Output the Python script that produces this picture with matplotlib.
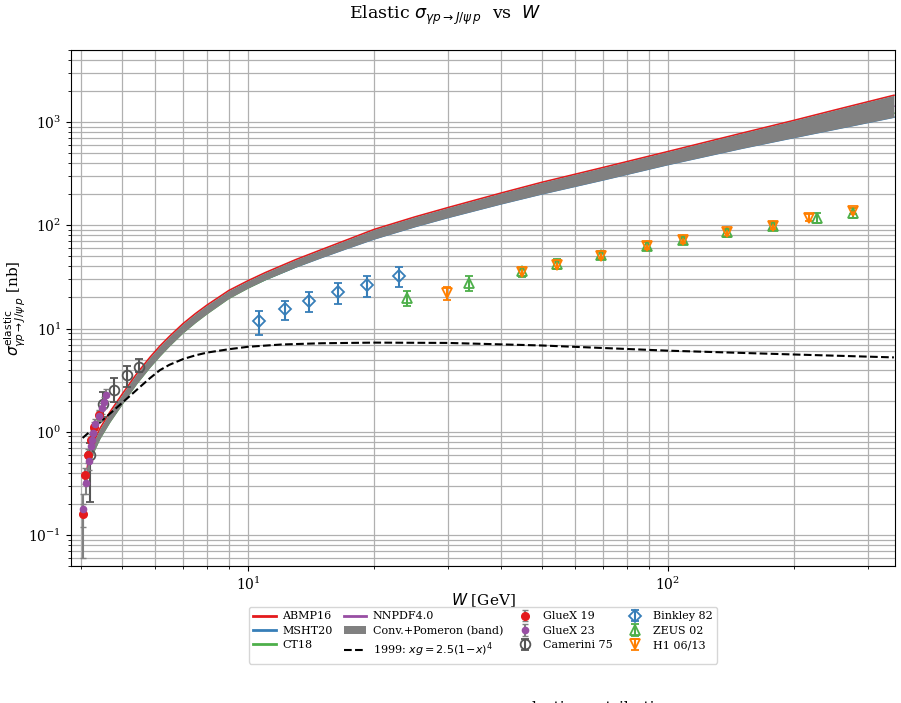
import numpy as np
import matplotlib
matplotlib.use("Agg")
import matplotlib.pyplot as plt

plt.rcParams['font.family'] = ['DejaVu Serif']
plt.rcParams['mathtext.fontset'] = 'dejavusans'

# ---------------- theory curves ----------------
W_th = [4.14, 4.17, 4.28, 4.44, 4.69, 5.05, 5.43, 5.84, 6.17, 6.5, 7.0, 7.5, 8.0, 9.0, 10,
        11, 13, 15, 17, 20, 25, 30, 40, 50, 70, 100, 150, 200, 250, 345]
abmp16 = [0.4365, 0.537, 0.776, 1.0715, 1.549, 2.399, 3.631, 5.248, 6.761, 8.375, 11.12,
          13.96, 16.94, 23.33, 29.04, 34.83, 46.56, 58.34, 70.96, 91.41, 120.8, 148.9,
          205.1, 260.6, 363.1, 518.8, 781.6, 1042, 1312, 1820]
msht20 = [0.3631, 0.4467, 0.6457, 0.8913, 1.288, 1.995, 3.020, 4.365, 5.623, 7.031, 9.419,
          11.89, 14.49, 20.04, 24.95, 29.79, 39.45, 48.98, 58.75, 73.96, 97.27, 119.4,
          161.4, 201.4, 275.4, 388.2, 558.5, 711.2, 855.1, 1117]
ct18 = [0.350, 0.431, 0.623, 0.860, 1.243, 1.925, 2.914, 4.212, 5.426, 6.785, 9.09,
        11.47, 14.0, 19.6, 24.7, 29.8, 39.8, 49.8, 60.2, 76.3, 101, 124.5,
        169, 212, 292, 414, 600, 770, 930, 1220]
nnpdf40 = [0.398, 0.490, 0.708, 0.977, 1.413, 2.188, 3.311, 4.786, 6.166, 7.674, 10.23,
           12.88, 15.67, 21.63, 26.92, 32.21, 42.85, 53.46, 64.57, 82.22, 108.4, 133.4,
           182.0, 229.1, 316.2, 448.7, 660.7, 861.0, 1059, 1426]

W_1999 = [4.04, 4.28, 4.52, 5.05, 5.5, 5.84, 6.17, 6.5, 7, 7.5, 8, 9, 10, 12, 15, 20, 30,
          50, 100, 200, 345]
xs_1999 = [0.87, 1.07, 1.31, 1.95, 2.66, 3.3, 3.95, 4.45, 5.05, 5.5, 5.85, 6.3, 6.65, 7.0,
           7.2, 7.3, 7.25, 6.85, 6.1, 5.6, 5.25]

# ---------------- data ----------------
W_gx19 = [4.04, 4.09, 4.16, 4.24, 4.30, 4.42]
xs_gx19 = [0.16, 0.38, 0.59, 0.84, 1.10, 1.46]
err_gx19 = [0.04, 0.07, 0.09, 0.11, 0.13, 0.16]

W_gx23 = [4.055, 4.115, 4.18, 4.22, 4.25, 4.28, 4.33, 4.42, 4.49, 4.53, 4.59]
xs_gx23 = [0.178, 0.32, 0.52, 0.72, 0.84, 0.97, 1.19, 1.43, 1.69, 1.92, 2.28]
errlo_gx23 = [0.118, 0.07, 0.09, 0.10, 0.11, 0.12, 0.14, 0.17, 0.20, 0.24, 0.28]
errhi_gx23 = [0.07, 0.07, 0.09, 0.10, 0.11, 0.12, 0.14, 0.17, 0.20, 0.26, 0.30]

W_cam = [4.21, 4.52, 4.80, 5.16, 5.50]
xs_cam = [0.60, 1.86, 2.55, 3.55, 4.27]
errlo_cam = [0.39, 0.46, 0.60, 0.85, 0.47]
errhi_cam = [0.18, 0.54, 0.75, 0.80, 0.83]

W_bink = [10.6, 12.25, 14.0, 16.4, 19.2, 22.9]
xs_bink = [11.7, 15.3, 18.4, 22.4, 26.4, 32.5]
err_bink = [3.0, 3.2, 4.0, 5.0, 6.0, 7.0]

W_zeus = [23.9, 33.6, 44.9, 54.5, 69.2, 88.9, 108.6, 138.3, 177.4, 225.8, 275.4]
xs_zeus = [19.8, 27.6, 35.8, 42.5, 51.9, 63.4, 72.4, 85.2, 98.8, 117.4, 133.1]
err_zeus = [3.2, 4.5, 4.0, 4.5, 5.0, 6.0, 6.5, 7.5, 9.0, 13.0, 15.0]

W_h1 = [29.7, 44.9, 54.5, 69.2, 88.9, 108.6, 138.3, 177.4, 216.7, 275.4]
xs_h1 = [22.1, 35.0, 41.5, 50.7, 63.4, 72.4, 85.2, 98.8, 118.9, 138.0]
err_h1 = [3.0, 3.0, 3.5, 4.0, 5.0, 5.5, 6.5, 7.5, 9.0, 10.0]

# ---------------- figure ----------------
fig = plt.figure(figsize=(9.01, 7.03), dpi=100)
ax = fig.add_axes([0.0788, 0.1949, 0.9145, 0.734])

ax.plot(W_th, abmp16, color='#e41a1c', lw=1.2, label='ABMP16', zorder=2)
ax.plot(W_th, msht20, color='#377eb8', lw=1.2, label='MSHT20', zorder=2)
ax.plot(W_th, ct18, color='#4daf4a', lw=1.2, label='CT18', zorder=2)
ax.plot(W_th, nnpdf40, color='#984ea3', lw=1.2, label='NNPDF4.0', zorder=2)
curves = np.array([abmp16, msht20, ct18, nnpdf40])
ax.fill_between(W_th, curves.min(axis=0), curves.max(axis=0), color='gray', lw=0,
                label='Conv.+Pomeron (band)', zorder=3)
ax.plot(W_1999, xs_1999, 'k--', lw=1.5, label=r'1999: $xg=2.5(1\!-\!x)^4$', zorder=4)

ax.errorbar(W_gx19, xs_gx19, yerr=err_gx19, fmt='o', color='#e41a1c', ecolor='gray',
            ms=5.5, elinewidth=1.5, capsize=2.5, label='GlueX 19', zorder=6)
ax.errorbar(W_gx23, xs_gx23, yerr=[errlo_gx23, errhi_gx23], fmt='o', color='#984ea3',
            ecolor='gray', ms=4.5, elinewidth=1.5, capsize=2.5, label='GlueX 23', zorder=6)
ax.errorbar(W_cam, xs_cam, yerr=[errlo_cam, errhi_cam], fmt='o', mfc='none', color='#555555',
            ms=7, mew=1.3, elinewidth=1.5, capsize=3, label='Camerini 75', zorder=5)
ax.errorbar(W_bink, xs_bink, yerr=err_bink, fmt='D', mfc='none', color='#377eb8',
            ms=6, mew=1.3, elinewidth=1.5, capsize=3, label='Binkley 82', zorder=5)
ax.errorbar(W_zeus, xs_zeus, yerr=err_zeus, fmt='^', mfc='none', color='#4daf4a',
            ms=6.5, mew=1.3, elinewidth=1.5, capsize=3, label='ZEUS 02', zorder=5)
ax.errorbar(W_h1, xs_h1, yerr=err_h1, fmt='v', mfc='none', color='#ff7f00',
            ms=6.5, mew=1.3, elinewidth=1.5, capsize=3, label='H1 06/13', zorder=5)

ax.set_xscale('log')
ax.set_yscale('log')
ax.set_xlim(3.79, 347)
ax.set_ylim(0.05, 5000)
ax.grid(True, which='both', color='#b0b0b0', lw=0.9)
ax.set_axisbelow(True)
ax.tick_params(labelsize=10)

ax.set_xlabel(r'$W$ [GeV]', fontsize=11)
ax.xaxis.set_label_coords(0.5, -0.048)
ax.xaxis.label.set_va('top')
ax.set_ylabel(r'$\sigma^{\rm elastic}_{\gamma p\to J/\psi\, p}$ [nb]', fontsize=11)
ax.yaxis.set_label_coords(-0.052, 0.5)
fig.text(0.494, 0.978, r'Elastic $\sigma_{\gamma p\to J/\psi\, p}$  vs  $W$', ha='center',
         va='center', fontsize=12.5)

leg = fig.legend(loc='upper center', bbox_to_anchor=(0.536, 0.1366), borderaxespad=0, ncol=4,
                 fontsize=8, frameon=True, handletextpad=0.6, columnspacing=1.0,
                 labelspacing=0.4)
for ln in leg.get_lines()[:4]:
    ln.set_linewidth(2.0)

fig.text(0.664, 0.003, 'elastic contribution', ha='center', va='top', fontsize=11)

fig.savefig('out.png', dpi=100)
